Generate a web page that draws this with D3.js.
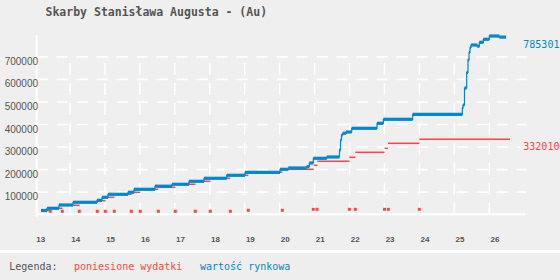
<!DOCTYPE html>
<html>
<head>
<meta charset="utf-8">
<script src="https://cdn.jsdelivr.net/npm/d3@7"></script>
<style>
  body { margin: 0; background: #eeeeee; }
  svg { display: block; font-family: "DejaVu Sans Mono", "Liberation Mono", monospace; }
</style>
</head>
<body>
<svg id="chart" width="560" height="280"></svg>
<script>
const width = 560,
    height = 280;

const title = 'Skarby Stanisława Augusta - (Au)';

// wartość rynkowa: start of each step (year) and its value
const marketDates = [13.17, 13.342, 13.685, 14.086, 14.773, 14.916, 15.088, 15.66, 15.832, 16.433,
    16.919, 17.406, 17.835, 18.485, 19.009, 20.01, 20.248, 20.774, 20.849, 20.963,
    21.347, 21.713, 21.742, 21.77, 21.805, 21.9, 22.062, 22.787, 22.967, 23.808,
    25.228, 25.248, 25.29, 25.353, 25.39, 25.42, 25.448, 25.477, 25.657, 25.714,
    25.829, 26.0, 26.287, 26.48];
const marketValues = [16400, 26200, 40800, 52800, 61600, 74900, 88200, 97100, 110400, 124200,
    132600, 145900, 159200, 172500, 185800, 199100, 204900, 210600, 227000, 247900,
    253700, 284700, 329000, 351200, 358800, 364500, 380900, 403100, 420800, 443000,
    470000, 484300, 559600, 629300, 684000, 718000, 739200, 750300, 744600, 762300,
    775600, 790200, 785301, 785301];

// poniesione wydatki: cumulative cost steps
const costDates = [13.17, 13.436, 13.785, 14.272, 14.781, 15.01, 15.268, 15.754, 16.012, 16.527,
    17.014, 17.586, 18.015, 18.588, 19.103, 20.076, 20.975, 21.078, 21.994, 22.165,
    23.001, 23.101, 23.997, 26.593];
const costValues = [16400, 26200, 39500, 52800, 60000, 74900, 88200, 97100, 110400, 119300,
    132600, 145900, 159200, 172500, 185800, 199100, 216800, 234600, 252300, 274500,
    292200, 314400, 332010, 332010];

// single purchases
const buyDates = [13.436, 13.78, 14.266, 14.781, 15.01, 15.268, 15.754, 16.012, 16.527, 17.014,
    17.586, 18.015, 18.588, 19.103, 20.076, 20.963, 21.069, 21.994, 22.165, 23.0,
    23.11, 23.997];
const buyAmounts = [12900, 12900, 12900, 12900, 12900, 12900, 12900, 12900, 12900, 12900,
    12900, 12900, 12900, 17300, 17300, 21700, 21700, 21700, 21700, 21700,
    21700, 21700];

const xTicks = [13, 14, 15, 16, 17, 18, 19, 20, 21, 22, 23, 24, 25, 26];
const yTicks = [100000, 200000, 300000, 400000, 500000, 600000, 700000];

const lastMarket = 785301,
    lastCost = 332010;

const blue = '#0088cc',
    red = '#ff4444',
    grey = '#555555';

const x = d3.scaleLinear().domain([14, 26]).range([70, 489.3]);
const y = d3.scaleLinear().domain([0, 700000]).range([214.2, 56.35]);

const svg = d3.select('#chart');

svg.append('rect')
    .attr('width', width)
    .attr('height', 250)
    .attr('fill', '#efefef');

svg.append('rect')
    .attr('y', 250)
    .attr('width', width)
    .attr('height', 3)
    .attr('fill', '#ffffff');

svg.append('text')
    .attr('x', 45.5)
    .attr('y', 16)
    .attr('font-size', 11.5)
    .attr('font-weight', 'bold')
    .attr('fill', grey)
    .text(title);

// vertical grid
svg.append('g')
    .selectAll('line')
    .data(xTicks.slice(1))
    .enter()
    .append('line')
    .attr('x1', d => x(d))
    .attr('x2', d => x(d))
    .attr('y1', 215)
    .attr('y2', 63)
    .attr('stroke', '#ffffff')
    .attr('stroke-width', 1.5)
    .attr('stroke-dasharray', '12,8');

// axis lines
svg.append('line')
    .attr('x1', 36.7).attr('x2', 525)
    .attr('y1', y(0)).attr('y2', y(0))
    .attr('stroke', '#ffffff')
    .attr('stroke-width', 2);
svg.append('line')
    .attr('x1', 36.7).attr('x2', 36.7)
    .attr('y1', 35).attr('y2', 217)
    .attr('stroke', '#ffffff')
    .attr('stroke-width', 2);

// horizontal grid + y labels
const yAxis = svg.append('g')
    .attr('transform', 'translate(36.7,0)')
    .call(d3.axisLeft(y)
        .tickValues(yTicks)
        .tickSize(-490)
        .tickPadding(0)
        .tickFormat(d3.format('d')));
yAxis.select('.domain').remove();
yAxis.selectAll('line')
    .attr('stroke', '#ffffff')
    .attr('stroke-width', 1.6)
    .attr('stroke-dasharray', '11,9');
yAxis.selectAll('text')
    .attr('x', 1.3)
    .attr('dy', 8)
    .attr('font-size', 10)
    .attr('font-family', null)
    .attr('fill', grey);

// x labels
const xAxis = svg.append('g')
    .attr('transform', 'translate(0,214.2)')
    .call(d3.axisBottom(x)
        .tickValues(xTicks)
        .tickSize(0));
xAxis.select('.domain').remove();
xAxis.selectAll('text')
    .attr('text-anchor', 'start')
    .attr('x', 0.7)
    .attr('y', 28)
    .attr('dy', 0)
    .attr('font-size', 8)
    .attr('font-weight', 'bold')
    .attr('font-family', null)
    .attr('fill', grey);

// purchases
svg.append('g')
    .selectAll('rect')
    .data(buyDates.map((d, i) => [d, buyAmounts[i]]))
    .enter()
    .append('rect')
    .attr('x', d => x(d[0]) - 1.5)
    .attr('y', d => y(d[1]) - 1.5)
    .attr('width', 3)
    .attr('height', 3)
    .attr('fill', red);

// cumulative cost: level segments only
const cost = costDates.map((d, i) => [d, costValues[i]]);
svg.append('g')
    .selectAll('line')
    .data(cost.slice(0, -1))
    .enter()
    .append('line')
    .attr('x1', d => x(d[0]))
    .attr('x2', (d, i) => x(cost[i + 1][0]))
    .attr('y1', d => y(d[1]))
    .attr('y2', d => y(d[1]))
    .attr('stroke', red)
    .attr('stroke-width', 1.5);

// market value: thin connecting step line + thick level bars
const market = marketDates.map((d, i) => [d, marketValues[i]]);
svg.append('path')
    .datum(market)
    .attr('d', d3.line()
        .x(d => x(d[0]))
        .y(d => y(d[1]))
        .curve(d3.curveStepAfter))
    .attr('fill', 'none')
    .attr('stroke', blue)
    .attr('stroke-width', 1.2);

svg.append('g')
    .selectAll('line')
    .data(market.slice(0, -1))
    .enter()
    .append('line')
    .attr('x1', d => x(d[0]))
    .attr('x2', (d, i) => x(market[i + 1][0]))
    .attr('y1', d => y(d[1]))
    .attr('y2', d => y(d[1]))
    .attr('stroke', blue)
    .attr('stroke-width', 3.2);

// end values
svg.append('text')
    .attr('x', 523.3)
    .attr('y', y(lastMarket) + 10.8)
    .attr('font-size', 10)
    .attr('fill', blue)
    .text(lastMarket);
svg.append('text')
    .attr('x', 523.3)
    .attr('y', y(lastCost) + 10.4)
    .attr('font-size', 10)
    .attr('fill', red)
    .text(lastCost);

// legend
const legend = svg.append('g')
    .attr('font-size', 10);
legend.append('text')
    .attr('x', 9.3).attr('y', 270)
    .attr('fill', grey)
    .text('Legenda:');
legend.append('text')
    .attr('x', 74).attr('y', 270)
    .attr('fill', red)
    .text('poniesione wydatki');
legend.append('text')
    .attr('x', 200).attr('y', 270)
    .attr('fill', blue)
    .text('wartość rynkowa');
</script>
</body>
</html>
